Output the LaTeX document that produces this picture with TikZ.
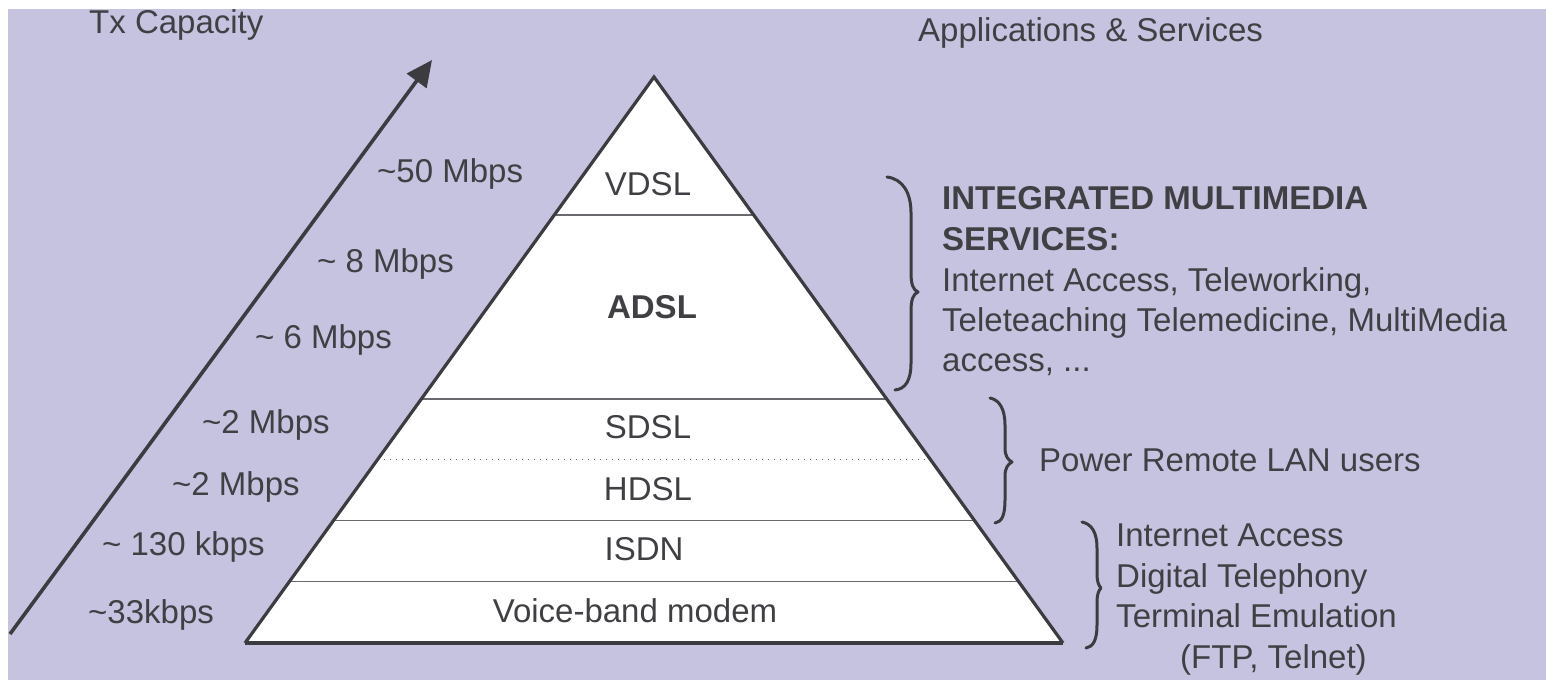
\documentclass[tikz,border=0pt]{standalone}
\usepackage{fontspec}
\setmainfont{Liberation Sans}
\usetikzlibrary{arrows.meta,calc}
\definecolor{bg}{RGB}{198,195,224}
\definecolor{ink}{RGB}{60,59,64}
\definecolor{txt}{RGB}{64,64,68}
\definecolor{divc}{RGB}{105,105,110}
\begin{document}
\begin{tikzpicture}[x=1pt,y=-1pt,
  lbl/.style={font=\fontsize{33}{40}\selectfont, text=txt, inner sep=0pt},
  lblb/.style={lbl, font=\fontsize{33}{40}\selectfont\bfseries},
  edge/.style={draw=ink, line width=3.2pt, line join=miter},
  divider/.style={draw=divc, line width=1.4pt},
  dotdiv/.style={draw=divc, line width=1.2pt, dash pattern=on 1.2pt off 4.8pt},
  bracestyle/.style={draw=ink, line width=3pt, line cap=round, line join=round},
  axis/.style={draw=ink, line width=3.6pt, -{Triangle[length=26pt,width=24pt]}}]
% canvas
\useasboundingbox (0,0) rectangle (1546,680);
\fill[white] (0,0) rectangle (1546,680);
\fill[bg] (8,9) rectangle (1546,680);

% pyramid corners
\coordinate (A) at (654,77);
\coordinate (BL) at (245,643);
\coordinate (BR) at (1063,643);
\fill[white] (A) -- (BL) -- (BR) -- cycle;

% dividers
\draw[divider] ($(A)!0.2438!(BL)$) -- ($(A)!0.2438!(BR)$);
\draw[divider] ($(A)!0.5689!(BL)$) -- ($(A)!0.5689!(BR)$);
\draw[dotdiv] ($(A)!0.6754!(BL)$) -- ($(A)!0.6754!(BR)$);
\draw[divider] ($(A)!0.7839!(BL)$) -- ($(A)!0.7839!(BR)$);
\draw[divider] ($(A)!0.8910!(BL)$) -- ($(A)!0.8910!(BR)$);

% outline
\draw[edge] (BL) -- (A) -- (BR);
\draw[draw=ink, line width=4.6pt] (BL) -- (BR);

% capacity arrow
\coordinate (S) at (10,634);
\coordinate (T) at (432,60);
\draw[axis] (S) -- (T);

% layer labels
\node[lbl, anchor=base] (vdsl) at (648,195) {VDSL};
\node[lblb, anchor=base] (adsl) at (652,318) {ADSL};
\node[lbl, anchor=base] (sdsl) at (648,438) {SDSL};
\node[lbl, anchor=base] (hdsl) at (648,500) {HDSL};
\node[lbl, anchor=base] (isdn) at (644,560) {ISDN};
\node[lbl, anchor=base] (vbm) at (635,622) {Voice-band modem};

% rate labels
\node[lbl, anchor=base west] (r50) at (377,182) {\textasciitilde50 Mbps};
\node[lbl, anchor=base west] (r8) at (317,272) {\textasciitilde{} 8 Mbps};
\node[lbl, anchor=base west] (r6) at (255,348) {\textasciitilde{} 6 Mbps};
\node[lbl, anchor=base west] (r2a) at (202,433) {\textasciitilde2 Mbps};
\node[lbl, anchor=base west] (r2b) at (172,495) {\textasciitilde2 Mbps};
\node[lbl, anchor=base west] (r130) at (102,555) {\textasciitilde{} 130 kbps};
\node[lbl, anchor=base west] (r33) at (88,623) {\textasciitilde33kbps};

% titles
\node[lbl, anchor=base west] (tx) at (89,33) {Tx Capacity};
\node[lbl, anchor=base west] (apps) at (918,41) {Applications \& Services};

% services
\node[lblb, anchor=base west] (ims1) at (942,209) {INTEGRATED MULTIMEDIA};
\node[lblb, anchor=base west] (ims2) at (942,250) {SERVICES:};
\node[lbl, anchor=base west] (ims3) at (942,291) {Internet Access, Teleworking,};
\node[lbl, anchor=base west] (ims4) at (942,331) {Teleteaching Telemedicine, MultiMedia};
\node[lbl, anchor=base west] (ims5) at (942,371) {access, ...};
\node[lbl, anchor=base west] (lan) at (1039,471) {Power Remote LAN users};
\node[lbl, anchor=base west] (ia) at (1116,546) {Internet Access};
\node[lbl, anchor=base west] (dt) at (1116,587) {Digital Telephony};
\node[lbl, anchor=base west] (te) at (1116,627) {Terminal Emulation};
\node[lbl, anchor=base west] (ftp) at (1180,668) {(FTP, Telnet)};

% braces
\draw[bracestyle] (887,177) .. controls (903,179) and (911,193) .. (911,213)
  -- (911,273) .. controls (911,284) and (913,290) .. (918,292)
  .. controls (913,294) and (911,300) .. (911,311)
  -- (911,363) .. controls (911,381) and (905,389) .. (895,390);
\draw[bracestyle] (990,398) .. controls (1000,400) and (1005,410) .. (1005,425)
  -- (1005,448) .. controls (1005,456) and (1008,460) .. (1012,462)
  .. controls (1008,464) and (1005,468) .. (1005,476)
  -- (1005,500) .. controls (1005,515) and (1002,522) .. (995,523);
\draw[bracestyle] (1082,522) .. controls (1092,524) and (1097,533) .. (1097,548)
  -- (1097,575) .. controls (1097,582) and (1099,586) .. (1101,588)
  .. controls (1099,590) and (1097,594) .. (1097,601)
  -- (1097,625) .. controls (1097,640) and (1093,647) .. (1086,648);
\end{tikzpicture}
\end{document}
